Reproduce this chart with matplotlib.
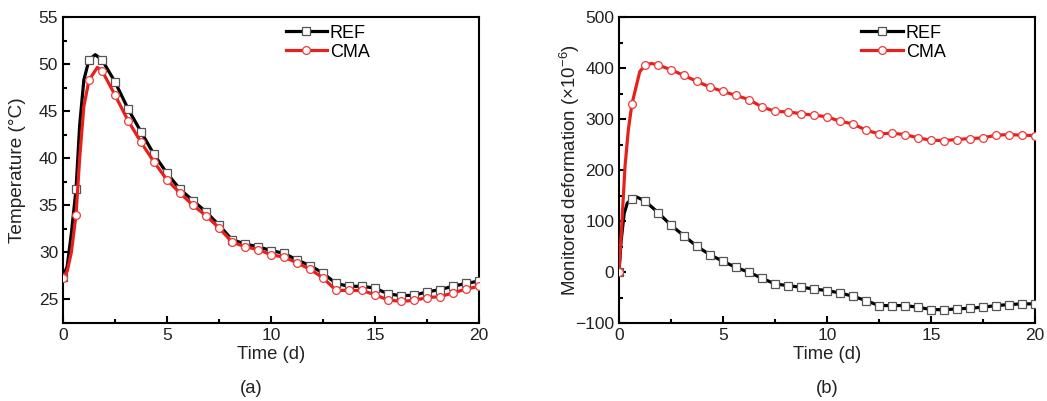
import numpy as np
import matplotlib
matplotlib.use('Agg')
import matplotlib.pyplot as plt
from matplotlib.ticker import MultipleLocator

plt.rcParams['font.family'] = ['Liberation Sans', 'DejaVu Sans']
plt.rcParams['mathtext.fontset'] = 'custom'
plt.rcParams['mathtext.rm'] = 'Liberation Sans'
plt.rcParams['mathtext.it'] = 'Liberation Sans:italic'

# marker times (every 0.625 d)
time_marks = np.arange(33) * 0.625

temp_ref = [27.4, 36.7, 50.45, 50.45, 48.1, 45.25, 42.8, 40.4, 38.4, 36.7, 35.5,
            34.3, 32.9, 31.35, 30.9, 30.6, 30.2, 29.9, 29.2, 28.6, 27.8, 26.7,
            26.4, 26.4, 26.2, 25.6, 25.4, 25.45, 25.8, 26.05, 26.4, 26.7, 26.95]
temp_cma = [27.3, 34.0, 48.3, 49.3, 46.7, 44.0, 41.7, 39.6, 37.7, 36.3, 35.0,
            33.9, 32.6, 31.1, 30.6, 30.3, 29.75, 29.5, 28.9, 28.2, 27.3, 25.96,
            25.96, 25.96, 25.5, 24.95, 24.8, 24.9, 25.2, 25.3, 25.7, 26.1, 26.4]

deform_ref = [0, 144, 139.3, 116.6, 91.8, 71, 50.2, 33.8, 20.9, 9.1, -0.6,
              -12.3, -23.4, -26.7, -29.9, -33.2, -36.5, -41, -47.5, -56, -65.8,
              -65.8, -65.8, -69, -73.6, -74, -72.3, -71, -69, -65.8, -63.9,
              -62.5, -62.5]
deform_cma = [0, 330, 405, 406, 396.5, 385.4, 373.7, 362.6, 354, 346.3, 338,
              323.6, 315, 313.8, 310.5, 307.3, 304.5, 295.5, 290.4, 278, 270.9,
              272.1, 269.5, 263, 258.4, 257.8, 259.8, 261.7, 263, 268.2, 269.5,
              268.2, 267.6]

# extra points on the curves between markers (early rise / peak)
temp_ref_rise_t = [0.2, 0.4, 0.8, 1.0, 1.55]
temp_ref_rise = [28.5, 32.0, 43.5, 48.3, 51.0]
temp_cma_rise_t = [0.2, 0.4, 0.8, 1.0, 1.65]
temp_cma_rise = [28.0, 30.0, 40.0, 45.5, 49.65]
deform_ref_rise_t = [0.1, 0.25, 0.4, 0.85]
deform_ref_rise = [60, 115, 135, 147]
deform_cma_rise_t = [0.13, 0.29, 0.45, 1.0, 1.55]
deform_cma_rise = [90, 207, 279, 393, 409]

BLACK = '#000000'
RED = '#e8201c'
TXT = '#222222'


def curve(t_mark, v_mark, t_extra, v_extra):
    t = np.concatenate([t_mark, t_extra])
    v = np.concatenate([v_mark, v_extra])
    order = np.argsort(t)
    return t[order], v[order]


def draw(ax, ref, cma, ref_rise, cma_rise):
    sq = dict(marker='s', ms=5.2, mfc='white', mec='#555555', mew=0.9)
    ci = dict(marker='o', ms=5.6, mfc='white', mec='#f03a3a', mew=0.9)

    t, v = curve(time_marks, ref, *ref_rise)
    ax.plot(t, v, color=BLACK, lw=2.3, zorder=2)
    ax.plot(time_marks, ref, ls='none', zorder=3, **sq)
    t, v = curve(time_marks, cma, *cma_rise)
    ax.plot(t, v, color=RED, lw=2.3, zorder=4)
    ax.plot(time_marks, cma, ls='none', zorder=5, **ci)

    # legend handles
    ax.plot([], [], color=BLACK, lw=2.3, label='REF', **sq)
    ax.plot([], [], color=RED, lw=2.3, label='CMA', **ci)

    ax.set_xlim(0, 20)
    ax.xaxis.set_major_locator(MultipleLocator(5))
    ax.xaxis.set_minor_locator(MultipleLocator(2.5))
    ax.tick_params(which='both', direction='in', top=False, right=False,
                   labelsize=12.5, labelcolor=TXT, width=1.5)
    ax.tick_params(which='major', length=5)
    ax.tick_params(which='minor', length=3)
    for s in ax.spines.values():
        s.set_linewidth(1.5)
    ax.set_xlabel('Time (d)', fontsize=13.3, color=TXT, labelpad=2)


fig = plt.figure(figsize=(10.47, 4.01), dpi=100)
ax1 = fig.add_axes([0.0602, 0.1945, 0.3973, 0.7631])
ax2 = fig.add_axes([0.5912, 0.1945, 0.3973, 0.7631])

draw(ax1, temp_ref, temp_cma, (temp_ref_rise_t, temp_ref_rise),
     (temp_cma_rise_t, temp_cma_rise))
ax1.set_ylim(22.5, 55)
ax1.yaxis.set_major_locator(MultipleLocator(5))
ax1.yaxis.set_minor_locator(MultipleLocator(2.5))
ax1.set_ylabel('Temperature (°C)', fontsize=13.7, color=TXT, labelpad=9)
ax1.legend(loc='upper left', bbox_to_anchor=(0.535, 0.975), frameon=False,
           fontsize=13, handlelength=2.3, handletextpad=0.15,
           labelspacing=0.12, borderpad=0, borderaxespad=0)

draw(ax2, deform_ref, deform_cma, (deform_ref_rise_t, deform_ref_rise),
     (deform_cma_rise_t, deform_cma_rise))
ax2.set_ylim(-100, 500)
ax2.yaxis.set_major_locator(MultipleLocator(100))
ax2.yaxis.set_minor_locator(MultipleLocator(50))
ax2.set_yticks(ax2.get_yticks())
ax2.set_yticklabels(['\u2212100' if v < 0 else '%d' % v for v in ax2.get_yticks()])
ax2.set_ylim(-100, 500)
ax2.set_ylabel(r'Monitored deformation ($\times$10$^{-6}$)', fontsize=13.4,
               color=TXT, labelpad=-5)
ax2.legend(loc='upper left', bbox_to_anchor=(0.583, 0.975), frameon=False,
           fontsize=13, handlelength=2.3, handletextpad=0.15,
           labelspacing=0.12, borderpad=0, borderaxespad=0)

fig.text(0.2395, 0.02, '(a)', ha='center', fontsize=13.3, color=TXT)
fig.text(0.79, 0.02, '(b)', ha='center', fontsize=13.3, color=TXT)

fig.savefig('out.png', dpi=100)
